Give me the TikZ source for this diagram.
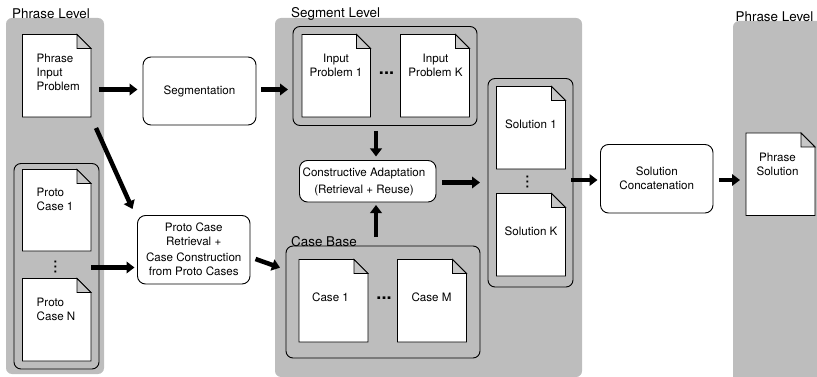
\documentclass[tikz,border=0pt]{standalone}
\usepackage{fontspec}
\setmainfont{TeX Gyre Heros}
\usetikzlibrary{arrows.meta,calc}
\definecolor{panelgray}{HTML}{BDBDBD}
\tikzset{
  x=1pt,y=-1pt,
  panel/.style={fill=panelgray,draw=none,rounded corners=6pt},
  grp/.style={draw=black,line width=0.9pt,rounded corners=7pt},
  proc/.style={draw=black,fill=white,line width=0.9pt,rounded corners=8pt},
  txt/.style={inner sep=0pt,font=\fontsize{11.6}{14}\selectfont,align=center},
  lefttxt/.style={txt,align=left,anchor=west},
  lvl/.style={inner sep=0pt,font=\fontsize{13.4}{15}\selectfont,anchor=west},
  dots/.style={inner sep=0pt,font=\bfseries\fontsize{18}{18}\selectfont},
  vdots/.style={inner sep=0pt,rotate=90,font=\fontsize{18}{18}\selectfont},
  arr/.style={line width=4.5pt,-{Triangle[length=8pt,width=11.5pt]}},
}
% name, x0, y0, x1, y1
\newcommand{\docshape}[5]{%
  \node[minimum width=#4pt-#2pt,minimum height=#5pt-#3pt,inner sep=0pt,outer sep=0pt] (#1) at ({(#2+#4)/2},{(#3+#5)/2}) {};
  \draw[fill=white,line width=0.9pt,line join=miter]
    (#2,#3) -- (#4-14,#3) -- (#4,#3+14) -- (#4,#5) -- (#2,#5) -- cycle;
  \draw[fill=panelgray!85!white,line width=0.9pt]
    (#4-14,#3) -- (#4,#3+14) -- (#4-14,#3+14) -- cycle;
}
\newcommand{\procbox}[6]{%
  \node[proc,txt,draw,rounded corners=8pt,minimum width=#4pt-#2pt,minimum height=#5pt-#3pt,outer sep=0pt] (#1) at ({(#2+#4)/2},{(#3+#5)/2}) {#6};
}
\begin{document}
\begin{tikzpicture}
\useasboundingbox (0,0) rectangle (817,377);
\clip (0,0) rectangle (817,377);
% panels
\fill[panel] (6,18) rectangle (104,374);
\fill[panel] (275,18) rectangle (582,377);
\fill[panel] (733,21) rectangle (835,385);
% level labels
\node[lvl] (l1) at (12,13.5) {Phrase Level};
\node[lvl] (l2) at (291,13.5) {Segment Level};
\node[lvl] (l3) at (735.5,16.5) {Phrase Level};
% groups
\node[minimum width=85pt,minimum height=205.5pt,inner sep=0pt,outer sep=0pt,draw,rounded corners=7pt,line width=0.9pt] (protogrp) at (56.5,266.25) {};
\node[minimum width=184pt,minimum height=99pt,inner sep=0pt,outer sep=0pt,draw,rounded corners=7pt,line width=0.9pt] (inputgrp) at (385,76) {};
\node[minimum width=85pt,minimum height=208.5pt,inner sep=0pt,outer sep=0pt,draw,rounded corners=7pt,line width=0.9pt] (solgrp) at (530.5,182.75) {};
\node[minimum width=194pt,minimum height=112pt,inner sep=0pt,outer sep=0pt,draw,rounded corners=7pt,line width=0.9pt] (casegrp) at (383,302) {};
\node[lvl] (casebaselabel) at (291,241.5) {Case Base};
% documents
\docshape{pip}{22.5}{34.5}{91}{117}
\node[lefttxt] (piptext) at (36.5,72) {Phrase\\Input\\Problem};
\docshape{pc1}{22.5}{169.5}{91}{251}
\node[lefttxt] (pc1text) at (36.5,199) {Proto\\Case 1};
\docshape{pcn}{22.5}{278.5}{91}{361}
\node[lefttxt] (pcntext) at (36.5,309) {Proto\\Case N};
\docshape{ip1}{302}{34.5}{370.5}{117}
\node[txt] (ip1text) at (336,65) {Input\\Problem 1};
\docshape{ipk}{400.5}{34.5}{469.5}{117}
\node[txt] (ipktext) at (435.5,65) {Input\\Problem K};
\docshape{sol1}{496.5}{86.5}{565.5}{169}
\node[txt] (sol1text) at (531,124) {Solution 1};
\docshape{solk}{496.5}{193.5}{565.5}{276}
\node[txt] (solktext) at (531,231) {Solution K};
\docshape{c1}{299}{259.5}{368}{342}
\node[txt] (c1text) at (330.5,297) {Case 1};
\docshape{cm}{397.5}{259.5}{466.5}{342}
\node[txt] (cmtext) at (431.5,297) {Case M};
\docshape{ps}{746}{133}{815}{215.5}
\node[txt] (pstext) at (777.5,164) {Phrase\\Solution};
% dots
\node[dots] (d1) at (386.5,73) {...};
\node[dots] (d2) at (384,298) {...};
\node[vdots] (d3) at (55.5,267) {...};
\node[vdots] (d4) at (527.5,182) {...};
% process boxes
\procbox{seg}{143}{57}{256}{125}{Segmentation}
\procbox{pcr}{137.5}{215.5}{250}{284}{Proto Case\\Retrieval +\\[2pt]Case Construction\\from Proto Cases}
\procbox{ca}{299.5}{160.5}{436}{202}{}
\node[txt] (catext) at (364,182) {Constructive Adaptation\\[3.5pt](Retrieval + Reuse)};
\procbox{sc}{600.5}{144.5}{713}{213}{Solution\\Concatenation}
% connectors
\coordinate (a1) at (pip.east |- 0,89.5);
\coordinate (a2) at (seg.west |- 0,89.5);
\draw[arr,shorten <=8pt,shorten >=5.5pt] (a1) -- (a2);
\coordinate (b1) at (seg.east |- 0,89.5);
\coordinate (b2) at (inputgrp.west |- 0,89.5);
\draw[arr,shorten <=5pt,shorten >=5pt] (b1) -- (b2);
\coordinate (c0) at (96,128);
\coordinate (c2) at (132.5,209);
\draw[arr] (c0) -- (c2);
\coordinate (d0) at (pcn.east |- 0,267.5);
\coordinate (d9) at (pcr.west |- 0,267.5);
\draw[arr,shorten >=3pt] (d0) -- (d9);
\coordinate (e1) at (255.5,259);
\coordinate (e2) at (280,267.7);
\draw[arr] (e1) -- (e2);
\coordinate (f1) at (376,125.5);
\coordinate (f2) at (376,160.5);
\draw[arr,shorten <=5.5pt,shorten >=4pt] (f1) -- (f2);
\coordinate (g1) at (376,246);
\coordinate (g2) at (376,202);
\draw[arr,shorten <=9pt,shorten >=3pt] (g1) -- (g2);
\coordinate (h1) at (ca.east |- 0,182.5);
\coordinate (h2) at (solgrp.west |- 0,182.5);
\draw[arr,shorten <=6pt,shorten >=8pt] (h1) -- (h2);
\coordinate (i1) at (571,180);
\coordinate (i2) at (sc.west |- 0,180);
\draw[arr,shorten >=3pt] (i1) -- (i2);
\coordinate (j1) at (sc.east |- 0,180);
\coordinate (j2) at (ps.west |- 0,180);
\draw[arr,shorten <=6pt,shorten >=6pt] (j1) -- (j2);
\end{tikzpicture}
\end{document}
